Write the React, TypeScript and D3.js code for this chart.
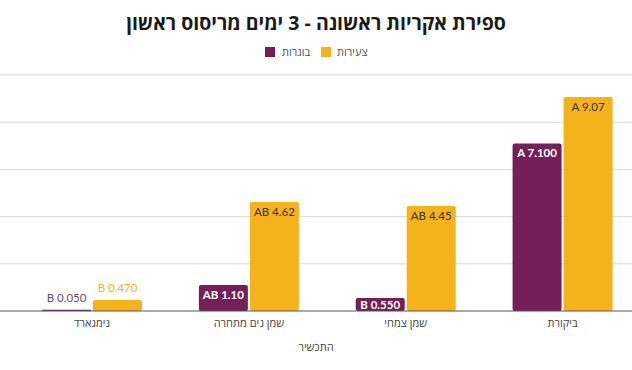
import React from "react";
import * as d3 from "d3";

const categories = ["ביקורת", "שמן צמחי", "שמן נים מתחרה", "נימגארד"];
const seriesNames = ["בוגרות", "צעירות"];
const adultValues = [7.1, 0.55, 1.1, 0.05];
const youngValues = [9.07, 4.45, 4.62, 0.47];
const adultLabels = ["A 7.100", "B 0.550", "AB 1.10", "B 0.050"];
const youngLabels = ["A 9.07", "AB 4.45", "AB 4.62", "B 0.470"];
const yTicks = [0, 2, 4, 6, 8, 10];

const W = 632;
const H = 370;
const PURPLE = "#741f57";
const YELLOW = "#f4b21b";
const FONT = "'Open Sans', 'DejaVu Sans', sans-serif";
const NUMFONT = "Lato, 'Open Sans', sans-serif";

export default function App() {
  const x = d3.scaleBand<string>().domain(categories).range([641, 13.6]);
  const y = d3.scaleLinear().domain([0, 10]).range([311, 75]);
  const barW = 49;
  const gap = 2;
  const series = [
    { name: seriesNames[0], values: adultValues, labels: adultLabels, color: PURPLE, inner: "#ffffff", bold: true, outer: "#6a4c66", dx: -(barW + gap) / 2 },
    { name: seriesNames[1], values: youngValues, labels: youngLabels, color: YELLOW, inner: "#3a3020", bold: false, outer: "#f0b323", dx: (barW + gap) / 2 },
  ];
  return (
    <svg width={W} height={H} style={{ position: "absolute", left: 0, top: 0, background: "#fff" }} fontFamily={FONT}>
      <text x={316} y={30} textAnchor="middle" direction="rtl" fontSize={19.5} fontWeight="bold" fill="#1a1a1a">
        ספירת אקריות ראשונה - 3 ימים מריסוס ראשון
      </text>
      {/* legend */}
      <g fontSize={11} fill="#555">
        <rect x={265} y={47} width={10} height={10} fill={PURPLE} />
        <text x={282} y={56} textAnchor="start">{seriesNames[0]}</text>
        <rect x={321} y={47} width={10} height={10} fill={YELLOW} />
        <text x={337} y={56} textAnchor="start">{seriesNames[1]}</text>
      </g>
      {yTicks.slice(1).map((t) => (
        <line key={t} x1={0} x2={W} y1={y(t)} y2={y(t)} stroke="#d9d9d9" strokeWidth={1} />
      ))}
      {series.map((s) =>
        categories.map((c, i) => {
          const v = s.values[i];
          const cx = (x(c) as number) + x.bandwidth() / 2 + s.dx;
          const top = y(v);
          const h = y(0) - top;
          const inside = h >= 12;
          return (
            <g key={s.name + c}>
              <rect x={cx - barW / 2} y={top} width={barW} height={h} fill={s.color} rx={Math.min(2, h / 2)} />
              {inside ? (
                <text x={cx} y={top + (h < 20 ? h / 2 + 4.5 : 14)} textAnchor="middle" fontFamily={NUMFONT} fontSize={11.5} fontWeight={s.bold ? "bold" : "normal"} fill={s.inner}>
                  {s.labels[i]}
                </text>
              ) : (
                <text x={cx} y={top - 8} textAnchor="middle" fontFamily={NUMFONT} fontSize={11.5} fill={s.outer}>
                  {s.labels[i]}
                </text>
              )}
            </g>
          );
        })
      )}
      <line x1={0} x2={W} y1={y(0)} y2={y(0)} stroke="#555" strokeWidth={1.2} />
      {categories.map((c) => (
        <text key={c} x={(x(c) as number) + x.bandwidth() / 2} y={327} textAnchor="middle" direction="rtl" fontSize={11} fill="#444">
          {c}
        </text>
      ))}
      <text x={316} y={351} textAnchor="middle" direction="rtl" fontSize={11} fill="#444">
        התכשיר
      </text>
    </svg>
  );
}
